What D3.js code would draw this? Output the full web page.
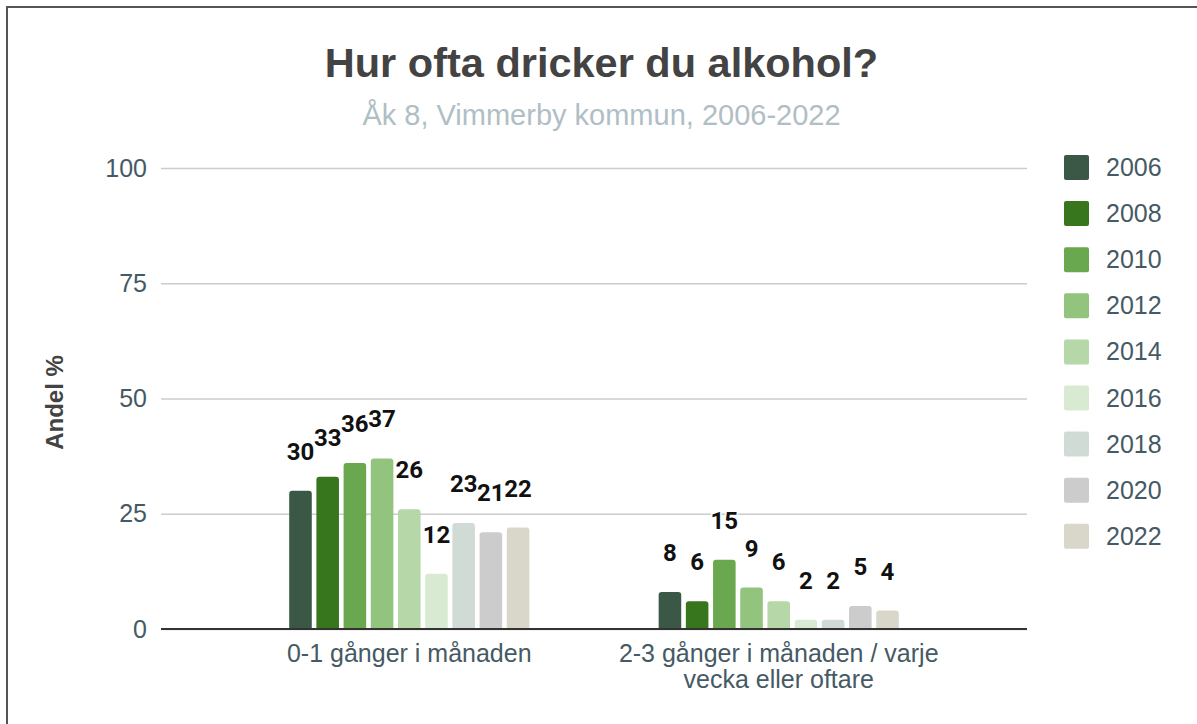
<!DOCTYPE html>
<html>
<head>
<meta charset="utf-8">
<script src="https://cdn.jsdelivr.net/npm/d3@7"></script>
<style>
  body { margin: 0; background: #fff; }
  svg text { font-family: "Liberation Sans", Arial, sans-serif; }
</style>
</head>
<body>
<div id="chart"></div>
<script>
var categories = ["0-1 gånger i månaden", "2-3 gånger i månaden / varje vecka eller oftare"];
var categoryLines = [["0-1 gånger i månaden"], ["2-3 gånger i månaden / varje", "vecka eller oftare"]];
var years = ["2006", "2008", "2010", "2012", "2014", "2016", "2018", "2020", "2022"];
var values0to1 = [30, 33, 36, 37, 26, 12, 23, 21, 22];
var values2to3 = [8, 6, 15, 9, 6, 2, 2, 5, 4];
var colors = ["#3a5845", "#38761d", "#6aa84f", "#93c47d", "#b6d7a8", "#d9ead3", "#d0dbd5", "#cccccc", "#d9d7ca"];
var yTicks = [0, 25, 50, 75, 100];

function drawChart() {
    var width = 1197;
    var height = 724;
    var plot = {left: 161, right: 1027, top: 168, bottom: 629};

    var series = [values0to1, values2to3];
    var data = categories.map(function(c, i) {
        return {cat: c, bars: years.map(function(y, j) { return {year: y, value: series[i][j], color: colors[j]}; })};
    });

    var svg = d3.select("#chart").append("svg")
        .attr("width", width)
        .attr("height", height);

    svg.append("rect").attr("width", width).attr("height", height).attr("fill", "#fff");

    // frame
    svg.append("rect")
        .attr("x", 7).attr("y", 7)
        .attr("width", width + 20).attr("height", height + 20)
        .attr("fill", "none")
        .attr("stroke", "#555")
        .attr("stroke-width", 2);

    var yScale = d3.scaleLinear().domain([0, 100]).range([plot.bottom, plot.top]);

    var x0 = d3.scaleBand().domain(categories)
        .range([plot.left, plot.right])
        .paddingInner(0.35)
        .paddingOuter(0.347);

    var x1 = d3.scaleBand().domain(years)
        .range([0, x0.bandwidth()])
        .paddingInner(0.17);

    // title
    svg.append("text")
        .attr("x", 601.5).attr("y", 77)
        .attr("text-anchor", "middle")
        .style("font-size", "41.5px").style("font-weight", "bold")
        .attr("fill", "#434343")
        .text("Hur ofta dricker du alkohol?");

    svg.append("text")
        .attr("x", 601.5).attr("y", 125)
        .attr("text-anchor", "middle")
        .style("font-size", "29px")
        .attr("fill", "#b0bec5")
        .text("Åk 8, Vimmerby kommun, 2006-2022");

    // y grid + ticks
    var yAxis = d3.axisLeft(yScale)
        .tickValues(yTicks)
        .tickSize(-(plot.right - plot.left))
        .tickPadding(14);

    var gy = svg.append("g")
        .attr("transform", "translate(" + plot.left + ",0)")
        .call(yAxis);
    gy.select(".domain").remove();
    gy.selectAll(".tick line").attr("stroke", "#cccccc").attr("stroke-width", 1.5);
    gy.selectAll(".tick text")
        .attr("fill", "#455a64")
        .style("font-size", "25px")
        .style("font-family", "'Liberation Sans', Arial, sans-serif");

    // y title
    svg.append("text")
        .attr("transform", "translate(63," + ((plot.top + plot.bottom) / 2 + 4) + ") rotate(-90)")
        .attr("text-anchor", "middle")
        .style("font-size", "24px").style("font-weight", "bold")
        .attr("fill", "#434343")
        .text("Andel %");

    // bars
    var groups = svg.selectAll(".group")
        .data(data)
        .enter().append("g")
        .attr("class", "group")
        .attr("transform", function(d) { return "translate(" + x0(d.cat) + ",0)"; });

    var r = 3;
    groups.selectAll("path.bar")
        .data(function(d) { return d.bars; })
        .enter().append("path")
        .attr("class", "bar")
        .attr("fill", function(d) { return d.color; })
        .attr("d", function(d) {
            var x = x1(d.year), w = x1.bandwidth();
            var y = yScale(d.value), b = yScale(0);
            var rr = Math.min(r, (b - y) / 2);
            return "M" + x + "," + b +
                "V" + (y + rr) +
                "Q" + x + "," + y + " " + (x + rr) + "," + y +
                "H" + (x + w - rr) +
                "Q" + (x + w) + "," + y + " " + (x + w) + "," + (y + rr) +
                "V" + b + "Z";
        });

    // baseline
    svg.append("line")
        .attr("x1", plot.left).attr("x2", plot.right)
        .attr("y1", yScale(0)).attr("y2", yScale(0))
        .attr("stroke", "#333").attr("stroke-width", 2);

    // value labels
    groups.selectAll("text.lbl")
        .data(function(d) { return d.bars; })
        .enter().append("text")
        .attr("class", "lbl")
        .attr("x", function(d) { return x1(d.year) + x1.bandwidth() / 2; })
        .attr("y", function(d) { return yScale(d.value) - 31; })
        .attr("text-anchor", "middle")
        .style("font-family", "Roboto, sans-serif")
        .style("font-size", "24px").style("font-weight", "bold")
        .attr("fill", "#111")
        .attr("stroke", "#fff").attr("stroke-width", 3)
        .attr("paint-order", "stroke")
        .text(function(d) { return d.value; });

    // category labels
    categoryLines.forEach(function(lines, i) {
        var t = svg.append("text")
            .attr("x", x0(categories[i]) + x0.bandwidth() / 2)
            .attr("y", 662)
            .attr("text-anchor", "middle")
            .style("font-size", "25px")
            .attr("fill", "#455a64");
        lines.forEach(function(l, k) {
            t.append("tspan")
                .attr("x", x0(categories[i]) + x0.bandwidth() / 2)
                .attr("dy", k === 0 ? 0 : 25.5)
                .text(l);
        });
    });

    // legend
    var legend = svg.selectAll(".legend")
        .data(years)
        .enter().append("g")
        .attr("class", "legend")
        .attr("transform", function(d, i) { return "translate(1064," + (155 + i * 46.1) + ")"; });

    legend.append("rect")
        .attr("width", 25).attr("height", 25)
        .attr("rx", 2)
        .attr("fill", function(d, i) { return colors[i]; });

    legend.append("text")
        .attr("x", 42).attr("y", 21)
        .style("font-size", "25px")
        .attr("fill", "#455a64")
        .text(function(d) { return d; });
}

drawChart();
</script>
</body>
</html>
